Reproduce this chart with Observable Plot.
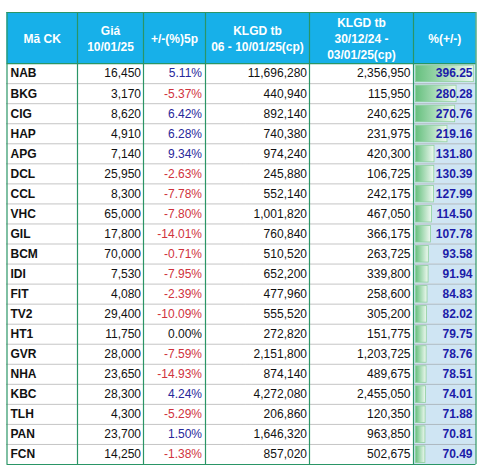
<!DOCTYPE html>
<html>
<head>
<meta charset="utf-8">
<script src="https://cdn.jsdelivr.net/npm/d3@7"></script>
<script src="https://cdn.jsdelivr.net/npm/@observablehq/plot@0.6"></script>
<style>
  html, body { margin: 0; padding: 0; background: #fff; }
  #chart svg { display: block; }
</style>
</head>
<body>
<div id="chart"></div>
<script>
// ---- Data ----
const headerLabels = ["Mã CK", "Giá\n10/01/25", "+/-(%)5p", "KLGD tb\n06 - 10/01/25(cp)", "KLGD tb\n30/12/24 -\n03/01/25(cp)", "%(+/-)"];
const tickers = ["NAB","BKG","CIG","HAP","APG","DCL","CCL","VHC","GIL","BCM","IDI","FIT","TV2","HT1","GVR","NHA","KBC","TLH","PAN","FCN"];
const prices = [16450,3170,8620,4910,7140,25950,8300,65000,17800,70000,7530,4080,29400,11750,28000,23650,28300,4300,23700,14250];
const change5p = [5.11,-5.37,6.42,6.28,9.34,-2.63,-7.78,-7.80,-14.01,-0.71,-7.95,-2.39,-10.09,0.00,-7.59,-14.93,4.24,-5.29,1.50,-1.38];
const volThisWeek = [11696280,440940,892140,740380,974240,245880,552140,1001820,760840,510520,652200,477960,555520,272820,2151800,874140,4272080,206860,1646320,857020];
const volPrevWeek = [2356950,115950,240625,231975,420300,106725,242175,467050,366175,263725,339800,258600,305200,151775,1203725,489675,2455050,120350,963850,502675];
const volChangePct = [396.25,280.28,270.76,219.16,131.80,130.39,127.99,114.50,107.78,93.58,91.94,84.83,82.02,79.75,78.76,78.51,74.01,71.88,70.81,70.49];

// ---- Layout config ----
const colEdgesPx = [6.5, 77, 143, 205, 309, 413, 475.5];
const headerRows = 2.55; // header height in row units

const rows = tickers.map((t, i) => ({
  i, ticker: t, price: prices[i], chg: change5p[i],
  v1: volThisWeek[i], v2: volPrevWeek[i], pct: volChangePct[i]
}));
const fmtInt = d3.format(",");
const colIdx = d3.range(colEdgesPx.length);
const headers = headerLabels.map((label, c) => ({c, label}));

// Data-bar length (Excel style: min length + proportional)
const barEnd = d3.scaleLinear()
  .domain(d3.extent(volChangePct))
  .range([5.19, 5.965]);

const defsMark = () => {
  const defs = d3.create("svg:defs");
  const g = defs.append("linearGradient").attr("id", "barGrad")
    .attr("x1", "0").attr("x2", "1").attr("y1", "0").attr("y2", "0");
  g.append("stop").attr("offset", "0%").attr("stop-color", "#66c07e");
  g.append("stop").attr("offset", "100%").attr("stop-color", "#eef8f1");
  return defs.node();
};

const chart = Plot.plot({
  width: 485,
  height: 465,
  margin: 0,
  style: {fontFamily: "'Liberation Sans', Arial, sans-serif", fontSize: "12px", background: "#fff"},
  x: {domain: colIdx, range: colEdgesPx, type: "linear", axis: null},
  y: {domain: [-headerRows, tickers.length], range: [12, 464], axis: null},
  marks: [
    defsMark,
    // header background
    Plot.rect([0], {x1: () => 0, x2: () => 6, y1: () => -headerRows, y2: () => 0, fill: "#17b0e9"}),
    // last column background
    Plot.rect(rows, {x1: () => 5, x2: () => 6, y1: d => d.i, y2: d => d.i + 1, fill: "#cfe5f3"}),
    // data bars
    Plot.rect(rows, {
      x1: () => 5, x2: d => barEnd(d.pct), y1: d => d.i, y2: d => d.i + 1,
      insetLeft: 2.5, insetTop: 2, insetBottom: 1.5,
      fill: "url(#barGrad)", stroke: "#8fcf9c", strokeWidth: 0.8
    }),
    // dotted row separators
    Plot.ruleY(d3.range(1, tickers.length), {x1: () => 0, x2: () => 6, stroke: "#8a8a8a", strokeDasharray: "1,1", strokeWidth: 1}),
    // solid horizontal borders
    Plot.ruleY([-headerRows, 0, tickers.length], {x1: () => 0, x2: () => 6, stroke: "#2a9566", strokeWidth: 1.2}),
    // vertical borders
    Plot.ruleX(colIdx, {y1: () => -headerRows, y2: () => tickers.length, stroke: "#2a9566", strokeWidth: 1.2}),
    // header text
    Plot.text(headers, {
      x: d => d.c + 0.5, y: () => -headerRows / 2, text: "label",
      fill: "#fff", fontWeight: "bold", fontSize: 12, lineHeight: 1.3, lineAnchor: "middle"
    }),
    // ticker
    Plot.text(rows, {x: () => 0, y: d => d.i + 0.5, text: "ticker", textAnchor: "start", dx: 3.5, fontWeight: "bold", fill: "#111", fontSize: 12}),
    // price
    Plot.text(rows, {x: () => 2, y: d => d.i + 0.5, text: d => fmtInt(d.price), textAnchor: "end", dx: -2.5, fill: "#111", fontSize: 12}),
    // change 5p
    Plot.text(rows, {
      x: () => 3, y: d => d.i + 0.5, text: d => d.chg.toFixed(2) + "%", textAnchor: "end", dx: -3.5, fontSize: 12,
      fill: d => d.chg > 0 ? "#27279a" : d.chg < 0 ? "#d0333d" : "#111"
    }),
    // vol this week
    Plot.text(rows, {x: () => 4, y: d => d.i + 0.5, text: d => fmtInt(d.v1), textAnchor: "end", dx: -2.5, fill: "#111", fontSize: 12}),
    // vol prev week
    Plot.text(rows, {x: () => 5, y: d => d.i + 0.5, text: d => fmtInt(d.v2), textAnchor: "end", dx: -3, fill: "#111", fontSize: 12}),
    // pct change
    Plot.text(rows, {x: () => 6, y: d => d.i + 0.5, text: d => d.pct.toFixed(2), textAnchor: "end", dx: -3.5, fontWeight: "bold", fill: "#1c1ca8", fontSize: 12})
  ]
});
document.getElementById("chart").appendChild(chart);
</script>
</body>
</html>
